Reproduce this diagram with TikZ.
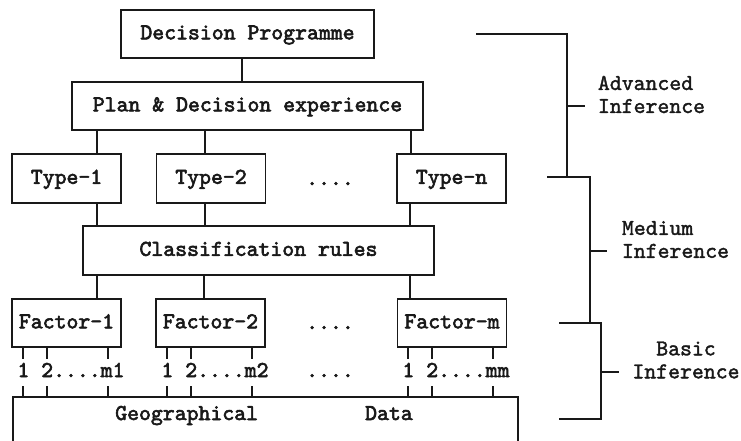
\documentclass[tikz,border=0pt]{standalone}
% slab-serif typewriter face, emboldened for the printed look
\font\boxfnt="[lmmono10-regular]:embolden=2.6" at 17pt
\font\sidefnt="[lmmono10-regular]:embolden=1.6" at 17pt
\newcommand\diagfont{\boxfnt}
\newcommand\sidefont{\sidefnt\baselineskip=17.25pt\relax}
\begin{document}
\begin{tikzpicture}[x=0.75pt,y=-0.75pt,
  line width=1.4pt,
  block/.style={draw=black!90, line width=1.4pt, inner sep=0pt,
    text height=10.5pt, text depth=2.5pt, font=\diagfont, text=black!90},
  tbox/.style={block, minimum width=81.75pt, minimum height=36.5pt},
  lbl/.style={inner sep=0pt, font=\diagfont, text=black!90},
  side/.style={inner sep=0pt, font=\sidefont, text=black!90},
  wire/.style={draw=black!90, line width=1.4pt}]

% page area
\clip (0,0) rectangle (741,441);
\fill[white] (0,0) rectangle (741,441);

% upper levels
\node[block, minimum width=189.75pt, minimum height=36pt] (dp) at (247.5,34) {Decision Programme};
\node[block, minimum width=263.25pt, minimum height=36pt] (pde) at (247.5,106) {Plan \& Decision experience};

% types
\node[tbox] (t1) at (66.5,178.5) {Type-1};
\node[tbox] (t2) at (211,178.5) {Type-2};
\node[tbox] (tn) at (451.5,178.5) {Type-n};
\node[lbl, anchor=base] (tdots) at (330,185) {....};

% classification
\node[block, minimum width=263.25pt, minimum height=36.75pt] (cr) at (258.5,250.5) {Classification rules};

% factors
\node[tbox] (f1) at (66.5,323) {Factor-1};
\node[tbox] (f2) at (210.5,323) {Factor-2};
\node[tbox] (fm) at (452,323) {Factor-m};
\node[lbl, anchor=base] (fdots) at (330,329) {....};

% data base (open at the bottom)
\node[draw=black!90, line width=1.4pt, inner sep=0pt, anchor=north west,
  minimum width=378.75pt, minimum height=60pt] (geo) at (12,396) {};
\node[lbl, anchor=base] (geotxt) at (264,420) {Geographical~~~~~~~~~Data};

% connectors between the levels
\draw[wire] (242,0 |- dp.south) -- (242,0 |- pde.north);
\foreach \x/\a/\b in {97/pde/t1, 205/pde/t2, 411/pde/tn,
                      97/t1/cr, 205/t2/cr, 410/tn/cr,
                      97/cr/f1, 204/cr/f2, 410/cr/fm}
  \draw[wire] (\x,0 |- \a.south) -- (\x,0 |- \b.north);

% factor outputs
\foreach \f/\L/\last in {f1/12/m1, f2/156/m2, fm/397/mm} {
  \node[lbl, anchor=base] (\f out) at (\L+59,377) {1 2....\last};
  \foreach \d in {11,35,96} {
    \draw[wire] (\L+\d,0 |- \f.south) -- ++(0,11);
    \draw[wire] (\L+\d,0 |- geo.north) -- ++(0,-10);
  }
}
\node[lbl, anchor=base] (odots) at (330,377) {....};

% inference levels
\draw[wire] (476,34) -- (567,34) -- (567,177);
\draw[wire] (567,106) -- (585,106);
\draw[wire] (547,177) -- (590,177) -- (590,323);
\draw[wire] (590,251) -- (607,251);
\draw[wire] (559,323) -- (601,323) -- (601,419) -- (559,419);
\draw[wire] (601,372) -- (619,372);

\node[side, anchor=west, align=left] (adv) at (597,94.5) {Advanced\\Inference};
\node[side, anchor=west, align=left] (med) at (621,239.5) {Medium\\Inference};
\node[side, align=center] (bas) at (686,360) {Basic\\Inference};
\end{tikzpicture}
\end{document}
